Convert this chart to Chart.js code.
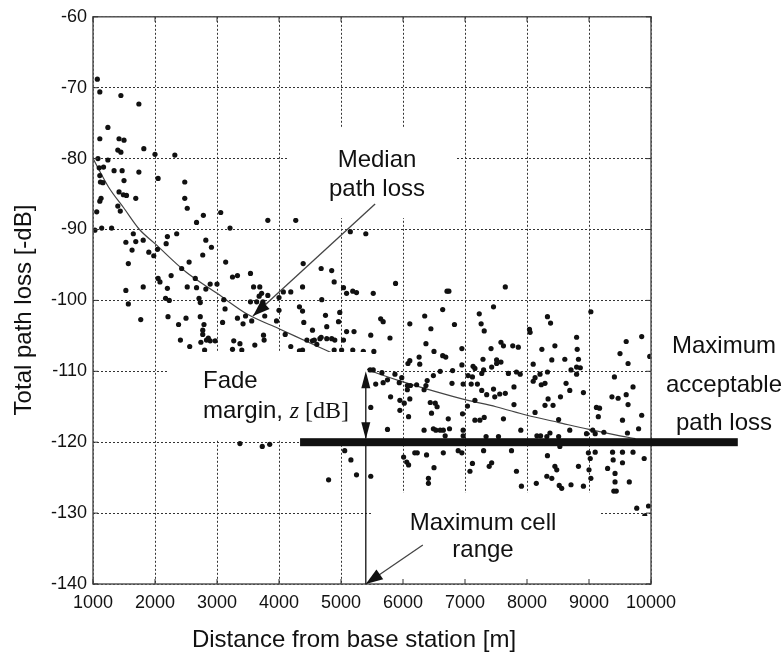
<!DOCTYPE html>
<html>
<head>
<meta charset="utf-8">
<script src="https://cdn.jsdelivr.net/npm/chart.js@4.4.0/dist/chart.umd.min.js"></script>
<style>
  html, body { margin: 0; padding: 0; background: #fff; }
  #wrap { width: 783px; height: 659px; position: relative; }
</style>
</head>
<body>
<div id="wrap"><canvas id="grafico-perda"></canvas></div>
<script>
// measured points (distance in m, total path loss in -dB)
const distance = [
  1070, 1110, 1450, 1740, 1240, 1110, 1420, 1500, 1400, 1450, 1820, 2000, 2320, 1080, 1240, 1100, 1170, 1340, 1470, 1740,
  1110, 1120, 1160, 1500, 2050, 2480, 1420, 1490, 1540, 1690, 2480, 1130, 1110, 1060, 1440, 1400, 1030, 1140, 1300, 1650,
  1530, 1690, 1630, 1810, 1900, 1980, 1570, 1810, 1530, 1570, 1770, 2040, 2200, 2350, 2180, 2050, 2080, 2260, 2200, 2170,
  2230, 2210, 2430, 2550, 2520, 2650, 2670, 2820, 2710, 2730, 2500, 2380, 2410, 2560, 2730, 2790, 2770, 2830, 2890, 2740,
  2800, 2970, 2890, 3000, 2770, 2820, 2910, 2670, 2780, 2520, 3060, 3210, 3140, 3110, 3130, 3090, 3250, 3330, 3270, 3370,
  3250, 3400, 3330, 3420, 3460, 3540, 3590, 3610, 3750, 3760, 3820, 3690, 3720, 3680, 3640, 3740, 3540, 3560, 4000, 4070,
  4190, 4380, 4390, 4330, 4380, 4400, 4100, 4190, 4330, 4540, 4680, 4690, 4750, 4680, 4610, 4000, 3960, 3770, 3820, 3750,
  4850, 4890, 4980, 5040, 5090, 4770, 4960, 5090, 4540, 4570, 4660, 4770, 4850, 4900, 2770, 2860, 5150, 5400, 5190, 5250,
  5520, 5880, 6710, 6740, 5210, 5480, 5640, 5680, 5790, 6110, 6350, 6640, 6450, 6830, 6370, 6500, 6640, 6690, 6950, 7230,
  7260, 7310, 7460, 7420, 7510, 4450, 5040, 4890, 5010, 5190, 5360, 5530, 4380, 6080, 6110, 6260, 6270, 5870, 5520, 5660,
  6490, 7160, 7120, 6950, 7130, 7290, 7580, 7620, 7770, 7860, 7510, 7580, 7430, 7300, 8050, 8240, 8450, 8800, 8810, 8610,
  8830, 8100, 8800, 8860, 8710, 5470, 5750, 5560, 5680, 5480, 5750, 5980, 5940, 6070, 6120, 6220, 6070, 6370, 6340, 6390,
  5800, 5950, 6110, 6020, 5950, 6090, 6440, 6520, 6550, 6460, 6730, 6490, 6530, 6600, 6650, 6680, 6750, 6340, 6790, 6600,
  6800, 7050, 7270, 6970, 7100, 7200, 7270, 7350, 7460, 7560, 7480, 7160, 6960, 7160, 7240, 7310, 7620, 7040, 6970, 6970,
  7340, 7540, 7900, 7890, 8100, 8290, 8210, 8340, 8420, 8290, 8630, 8690, 8910, 8800, 8510, 8130, 8160, 8510, 8690, 8320,
  9120, 8960, 9060, 9100, 6010, 6060, 6090, 6190, 6230, 6380, 6650, 6890, 6950, 6500, 6410, 6410, 7120, 7080, 7300, 7430,
  7390, 7830, 7910, 8150, 8330, 8450, 8480, 8320, 8400, 8520, 8560, 8710, 8830, 8910, 8990, 9020, 9000, 9030, 5060, 5160,
  5250, 4800, 5480, 3370, 3730, 3850, 7650, 9030, 8330, 8380, 8040, 9600, 9850, 9500, 8400, 9630, 9980, 8330, 7700, 7830,
  8130, 8230, 9410, 9710, 7790, 7650, 8540, 9370, 9470, 9600, 9630, 9170, 9150, 7790, 8220, 8370, 9240, 9540, 9850, 9800,
  9620, 7750, 8530, 9100, 9380, 9390, 9540, 9710, 9890, 9540, 9300, 9420, 9420, 9400, 9440, 9650, 9770, 9960, 9900, 9240,
  4270
];
const pathLoss = [
  -68.8, -70.6, -71.1, -72.3, -75.6, -77.2, -77.2, -77.4, -78.8, -79.1, -78.6, -79.4, -79.5, -80.0, -80.2, -81.3, -81.2, -81.7, -81.7, -81.9,
  -82.4, -83.3, -83.4, -83.1, -82.8, -83.3, -84.7, -85.1, -85.2, -85.6, -85.6, -85.6, -86.0, -87.5, -87.4, -86.7, -90.1, -89.8, -89.8, -90.6,
  -91.8, -91.7, -92.9, -91.5, -93.2, -93.7, -94.8, -98.1, -98.6, -100.5, -102.7, -92.8, -91.0, -90.6, -92.0, -96.9, -97.4, -96.5, -98.3, -99.7,
  -100.0, -102.3, -95.5, -94.6, -98.1, -96.9, -98.2, -98.4, -99.7, -100.3, -102.5, -103.4, -105.6, -106.5, -102.3, -103.4, -104.8, -105.6, -105.7, -105.9,
  -107.0, -105.7, -97.7, -97.7, -93.6, -91.5, -92.5, -89.0, -88.0, -87.0, -87.6, -89.8, -94.6, -99.9, -101.2, -103.1, -96.7, -96.5, -105.7, -106.1,
  -106.9, -107.0, -102.5, -103.3, -102.2, -96.2, -98.1, -106.3, -104.9, -105.6, -88.7, -98.1, -99.0, -99.4, -100.2, -100.2, -100.2, -102.9, -99.6, -98.8,
  -98.8, -98.1, -94.8, -100.9, -101.5, -103.1, -104.8, -106.5, -107.1, -105.7, -95.5, -99.9, -102.1, -105.2, -106.2, -101.4, -102.9, -102.2, -99.3, -100.6,
  -95.8, -97.4, -101.7, -98.2, -99.0, -103.7, -103.0, -104.4, -104.2, -105.6, -105.4, -105.4, -105.4, -105.6, -104.2, -105.3, -90.3, -90.6, -98.7, -98.9,
  -99.0, -97.6, -98.7, -98.7, -104.4, -104.9, -102.6, -103.0, -105.3, -103.3, -102.2, -101.3, -104.0, -103.4, -106.1, -107.2, -107.8, -108.0, -106.8, -101.9,
  -103.3, -104.3, -100.9, -106.8, -108.4, -105.6, -105.6, -107.0, -107.0, -107.0, -107.2, -107.2, -107.0, -108.9, -108.5, -108.0, -109.0, -110.4, -109.8, -110.2,
  -110.6, -109.6, -110.8, -109.1, -109.3, -108.3, -105.9, -106.4, -106.4, -106.6, -108.9, -108.7, -109.4, -109.8, -104.5, -106.9, -106.4, -105.2, -106.9, -108.3,
  -108.3, -109.0, -109.4, -109.5, -109.8, -109.8, -111.2, -111.8, -111.6, -115.1, -118.2, -110.9, -111.6, -112.0, -112.0, -111.9, -112.6, -112.0, -112.6, -111.3,
  -113.6, -114.1, -113.9, -114.5, -115.5, -116.4, -114.4, -114.5, -115.0, -115.9, -116.7, -118.1, -118.3, -118.3, -118.3, -119.1, -118.1, -118.3, -111.7, -110.0,
  -109.9, -110.6, -110.3, -111.8, -111.8, -111.8, -112.7, -113.3, -112.5, -113.2, -113.6, -114.1, -116.0, -116.9, -116.9, -116.5, -116.7, -114.9, -118.3, -119.1,
  -119.2, -119.2, -118.3, -110.4, -111.4, -111.7, -110.4, -113.9, -114.8, -114.8, -111.7, -112.7, -113.0, -110.4, -116.8, -115.8, -119.1, -119.2, -118.3, -119.2,
  -115.1, -118.8, -118.3, -118.8, -122.1, -122.8, -123.2, -121.5, -121.5, -121.8, -121.5, -121.2, -121.5, -123.6, -125.1, -125.8, -123.0, -124.1, -121.2, -122.9,
  -123.4, -124.1, -126.2, -125.8, -121.9, -123.4, -123.9, -124.8, -125.1, -126.1, -126.5, -126.0, -123.4, -126.2, -121.5, -122.3, -123.9, -125.1, -121.2, -122.5,
  -124.6, -125.3, -124.8, -120.2, -120.6, -120.3, -98.1, -101.6, -102.3, -103.2, -104.1, -105.8, -105.1, -107.5, -108.4, -108.9, -107.9, -110.1, -110.3, -110.1,
  -110.9, -111.9, -110.8, -112.2, -112.2, -113.1, -113.6, -113.6, -113.8, -113.3, -114.7, -115.2, -116.4, -114.7, -119.1, -118.7, -118.6, -116.9, -116.2, -118.1,
  -118.7, -121.2, -120.6, -121.4, -121.4, -122.5, -121.4, -121.4, -122.3, -122.9, -123.7, -124.4, -125.6, -126.9, -126.9, -125.6, -129.3, -129.0, -130.4, -134.5,
  -88.7
];

// median path loss curve
const medianDistance = [1000, 1250, 1500, 1750, 2000, 2500, 3000, 3500, 4000, 4500, 5000, 5500, 6000, 6500, 7000, 7500, 8000, 8500, 9000, 9500, 9750];
const medianLoss = [-80, -84, -87, -90, -92, -96, -99, -102, -104, -106, -108, -110, -111.5, -112.8, -114, -115, -116.2, -117.2, -118.2, -119.1, -119.5];

const distanceTicks = [1000, 2000, 3000, 4000, 5000, 6000, 7000, 8000, 9000, 10000];
const lossTicks = [-140, -130, -120, -110, -100, -90, -80, -70, -60];

// levels used by the annotations
const maxAcceptableLoss = -120;
const cellRange = 5400;

const pontos = distance.map((d, i) => ({ x: d, y: pathLoss[i] }));
const mediana = medianDistance.map((d, i) => ({ x: d, y: medianLoss[i] }));

const SANS = '"Liberation Sans", Arial, sans-serif';
const SERIF = '"Liberation Serif", "Times New Roman", serif';

function cabeca(ctx, x1, y1, x2, y2, len, half) {
  const ang = Math.atan2(y2 - y1, x2 - x1);
  ctx.beginPath();
  ctx.moveTo(x2, y2);
  ctx.lineTo(x2 - len * Math.cos(ang) + half * Math.sin(ang), y2 - len * Math.sin(ang) - half * Math.cos(ang));
  ctx.lineTo(x2 - len * Math.cos(ang) - half * Math.sin(ang), y2 - len * Math.sin(ang) + half * Math.cos(ang));
  ctx.closePath();
  ctx.fill();
}

function linha(ctx, x1, y1, x2, y2) {
  ctx.beginPath();
  ctx.moveTo(x1, y1);
  ctx.lineTo(x2, y2);
  ctx.stroke();
}

const anotacoes = {
  id: 'anotacoes',
  afterDatasetsDraw(chart) {
    const { ctx, chartArea: a, scales: { x, y } } = chart;
    ctx.save();

    // white patches behind the labels (they hide grid, points and curve)
    ctx.fillStyle = '#fff';
    ctx.fillRect(288, 128, 169, 90);
    ctx.fillRect(167, 352, 200, 88);
    ctx.fillRect(373, 493, 227, 91);
    ctx.fillRect(588, 516, 63, 68);

    // frame
    ctx.strokeStyle = '#555';
    ctx.lineWidth = 1.5;
    ctx.strokeRect(a.left, a.top, a.right - a.left, a.bottom - a.top);

    // inward tick marks
    ctx.lineWidth = 1;
    ctx.strokeStyle = '#333';
    distanceTicks.forEach(v => {
      const px = x.getPixelForValue(v);
      linha(ctx, px, a.bottom, px, a.bottom - 5);
      linha(ctx, px, a.top, px, a.top + 5);
    });
    lossTicks.forEach(v => {
      const py = y.getPixelForValue(v);
      linha(ctx, a.left, py, a.left + 5, py);
      linha(ctx, a.right, py, a.right - 5, py);
    });

    // maximum acceptable path loss
    const yMax = y.getPixelForValue(maxAcceptableLoss);
    ctx.fillStyle = '#111';
    ctx.fillRect(x.getPixelForValue(4340), yMax - 4, x.getPixelForValue(11400) - x.getPixelForValue(4340), 8);

    // fade margin arrow and cell range line
    const xr = x.getPixelForValue(cellRange);
    const y110 = y.getPixelForValue(-110);
    ctx.strokeStyle = '#111';
    ctx.lineWidth = 1.3;
    linha(ctx, xr, y110 + 4, xr, yMax - 4);
    cabeca(ctx, xr, y110 + 20, xr, y110, 17, 4.5);
    cabeca(ctx, xr, yMax - 20, xr, yMax - 3, 17, 4.5);
    linha(ctx, xr, yMax, xr, a.bottom);

    // median arrow
    const mx1 = x.getPixelForValue(5550), my1 = y.getPixelForValue(-86.4);
    const mx2 = x.getPixelForValue(3580), my2 = y.getPixelForValue(-102.2);
    ctx.strokeStyle = '#444';
    ctx.lineWidth = 1.3;
    linha(ctx, mx1, my1, mx2, my2);
    ctx.fillStyle = '#111';
    cabeca(ctx, mx1, my1, mx2, my2, 17, 6);

    // cell range arrow
    const cx1 = x.getPixelForValue(6320), cy1 = y.getPixelForValue(-134.5);
    const cy2 = y.getPixelForValue(-140);
    linha(ctx, cx1, cy1, xr, cy2);
    cabeca(ctx, cx1, cy1, xr, cy2, 17, 6);

    // texts
    ctx.fillStyle = '#111';
    ctx.textBaseline = 'alphabetic';
    ctx.font = '24px ' + SANS;
    ctx.textAlign = 'center';
    ctx.fillText('Median', 377, 167);
    ctx.fillText('path loss', 377, 196);
    ctx.fillText('Maximum cell', 483, 530);
    ctx.fillText('range', 483, 557);
    ctx.fillText('Maximum', 724, 353);
    ctx.fillText('acceptable', 724, 392);
    ctx.fillText('path loss', 724, 430);

    ctx.textAlign = 'left';
    ctx.fillText('Fade', 203, 388);
    const t1 = 'margin, ';
    ctx.fillText(t1, 203, 418);
    let cur = 203 + ctx.measureText(t1).width;
    ctx.font = 'italic 24px ' + SERIF;
    ctx.fillText('z', cur, 418);
    cur += ctx.measureText('z').width;
    ctx.font = '24px ' + SERIF;
    ctx.fillText(' [dB]', cur, 418);

    // axis titles
    ctx.font = '24px ' + SANS;
    ctx.textAlign = 'center';
    ctx.fillText('Distance from base station [m]', 354, 647);
    ctx.translate(31, 310);
    ctx.rotate(-Math.PI / 2);
    ctx.fillText('Total path loss [-dB]', 0, 0);

    ctx.restore();
  }
};

const ctx = document.getElementById('grafico-perda');
new Chart(ctx, {
  type: 'scatter',
  data: {
    datasets: [{
      label: 'Measured',
      data: pontos,
      pointRadius: 2.6,
      pointBackgroundColor: '#111',
      pointBorderWidth: 0
    },
    {
      label: 'Median path loss',
      data: mediana,
      showLine: true,
      pointRadius: 0,
      borderColor: '#444',
      borderWidth: 1.2,
      cubicInterpolationMode: 'monotone'
    }]
  },
  options: {
    responsive: true,
    maintainAspectRatio: false,
    animation: false,
    layout: { padding: { top: 15, right: 132, left: 0, bottom: 0 } },
    plugins: { legend: { display: false }, tooltip: { enabled: false } },
    scales: {
      x: {
        type: 'linear',
        min: 1000,
        max: 10000,
        afterBuildTicks: s => { s.ticks = distanceTicks.map(v => ({ value: v })); },
        afterFit: s => { s.height = 75; },
        ticks: {
          padding: 8,
          color: '#111',
          font: { family: SANS, size: 18 },
          callback: v => String(v),
          maxRotation: 0
        },
        grid: { color: '#333', lineWidth: 1, drawTicks: false },
        border: { display: false, dash: [2, 2] }
      },
      y: {
        min: -140,
        max: -60,
        afterBuildTicks: s => { s.ticks = lossTicks.map(v => ({ value: v })); },
        afterFit: s => { s.width = 93; },
        ticks: {
          padding: 6,
          color: '#111',
          font: { family: SANS, size: 18 },
          callback: v => String(v)
        },
        grid: { color: '#333', lineWidth: 1, drawTicks: false },
        border: { display: false, dash: [2, 2] }
      }
    }
  },
  plugins: [anotacoes]
});
</script>
</body>
</html>
